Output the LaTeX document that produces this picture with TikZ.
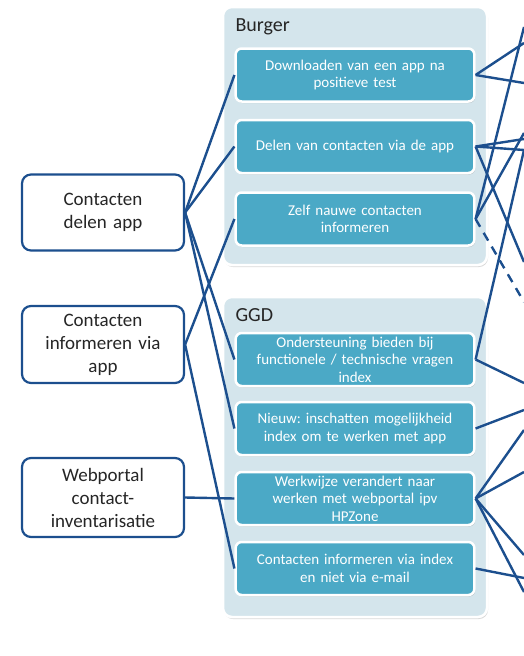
\documentclass[tikz,border=0pt]{standalone}
\usepackage{fontspec}
\setmainfont{Carlito}
\usetikzlibrary{positioning}
\usetikzlibrary{shadows}
\definecolor{linkblue}{HTML}{1C4F8E}
\definecolor{panelblue}{HTML}{D4E5EC}
\definecolor{taskteal}{HTML}{4BA9C6}
\definecolor{labelgray}{HTML}{262626}
\frenchspacing
\tikzset{theme/.style={draw=linkblue, line width=2.2pt, rounded corners=9pt, fill=white,
    minimum width=162pt, text width=155pt, align=center, text=labelgray,
    font=\fontsize{19}{23}\selectfont}}
\tikzset{panel/.style={fill=panelblue, draw=white, line width=2.5pt, rounded corners=9pt,
    minimum width=264pt, drop shadow={opacity=0.3, shadow xshift=1pt, shadow yshift=-2pt}}}
\tikzset{task/.style={fill=taskteal, draw=white, line width=2.5pt, rounded corners=6pt,
    minimum width=237pt, minimum height=53pt, text width=232pt, align=center, text=white,
    font=\fontsize{15}{17.5}\selectfont,
    drop shadow={opacity=0.3, shadow xshift=1pt, shadow yshift=-1.5pt}}}
\tikzset{link/.style={draw=linkblue, line width=2.4pt}}

\begin{document}
\begin{tikzpicture}[x=1pt, y=-1pt]
\useasboundingbox (0,0) rectangle (524,656);
% groups
\node[panel, minimum height=258pt] (burger) at (355,136) {};
\node[panel, minimum height=320pt] (ggd) at (355,457) {};
\node[anchor=west, text=labelgray, font=\fontsize{20}{22}\selectfont] (burgerlbl) at (232,27) {Burger};
\node[anchor=west, text=labelgray, font=\fontsize{20}{22}\selectfont] (ggdlbl) at (232,315) {GGD};
% tasks
\node[task] (download) at (355,75) {Downloaden van een app na\\positieve test};
\node[task] (delen) at (355,146.5) {Delen van contacten via de app};
\node[task] (zelf) at (355,219) {Zelf nauwe contacten\\informeren};
\node[task] (steun) at (355,359.5) {Ondersteuning bieden bij\\functionele / technische vragen\\index};
\node[task] (nieuw) at (355,428.5) {Nieuw: inschatten mogelijkheid\\index om te werken met app};
\node[task] (werkwijze) at (355,498.5) {Werkwijze verandert naar\\werken met webportal ipv\\HPZone};
\node[task] (infoindex) at (355,568.5) {Contacten informeren via index\\en niet via e-mail};
% themes
\node[theme, minimum height=76pt] (deelapp) at (103,212.5) {Contacten\\delen app};
\node[theme, minimum height=77pt] (infoapp) at (103,344.5) {Contacten\\informeren via\\app};
\node[theme, minimum height=79pt] (webportal) at (103,497.5) {Webportal\\contact-\\inventarisatie};
% links left
\foreach \t in {download,delen,steun,nieuw}
  \draw[link] (deelapp.east) -- (\t.west);
\foreach \t in {zelf,infoindex}
  \draw[link] (infoapp.east) -- (\t.west);
\draw[link] (webportal.east) -- (werkwijze.west);
% links right, to the next column
\foreach \t/\y [count=\i] in {download/43, download/83, delen/139, delen/150, delen/262,
    zelf/27, zelf/133, steun/150, steun/383, nieuw/410, werkwijze/430, werkwijze/472,
    werkwijze/555, werkwijze/592, infoindex/578} {
  \coordinate (out\i) at (524,\y);
  \draw[link] (\t.east) -- (out\i);
}
\coordinate (outdash) at (524,302);
\draw[link, dashed, dash pattern=on 9pt off 7pt] (zelf.east) -- (outdash);
\end{tikzpicture}
\end{document}
